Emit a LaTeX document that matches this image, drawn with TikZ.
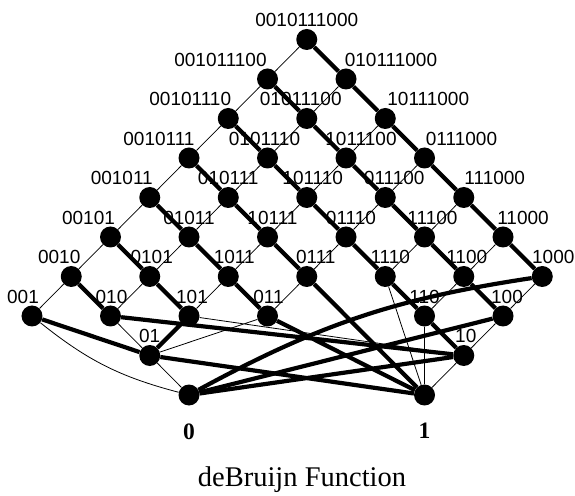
\documentclass[tikz,border=0pt]{standalone}
\usepackage{fontspec}
\setmainfont{Liberation Serif}
\setsansfont{Liberation Sans}

\begin{document}
\begin{tikzpicture}[x=39.25pt,y=39.5pt,
  bit/.style={circle,fill=black,minimum size=21pt,inner sep=0pt},
  lab/.style={font=\sffamily\fontsize{19}{19}\selectfont,inner sep=0pt,label distance=1.5pt},
  bitname/.style={font=\bfseries\fontsize{23.5}{24}\selectfont,inner sep=0pt,label distance=17.5pt},
  title/.style={font=\fontsize{28.5}{30}\selectfont,inner sep=0pt},
  preedge/.style={line width=0.8pt},
  sufedge/.style={line width=4.2pt}]

\useasboundingbox (-32pt,-179pt) rectangle (543pt,316pt);

% The full string
\node[bit,label={[lab]above:0010111000}] (s0010111000) at (7,7) {};

% Length 9
\node[bit,label={[lab,xshift=-47pt]above:001011100}] (s001011100) at (6,6) {};
\node[bit,label={[lab,xshift=45pt]above:010111000}] (s010111000) at (8,6) {};

% Length 8
\node[bit,label={[lab,xshift=-38pt]above:00101110}] (s00101110) at (5,5) {};
\node[bit,label={[lab,xshift=-6pt]above:01011100}] (s01011100) at (7,5) {};
\node[bit,label={[lab,xshift=43pt]above:10111000}] (s10111000) at (9,5) {};

% Length 7
\node[bit,label={[lab,xshift=-30pt]above:0010111}] (s0010111) at (4,4) {};
\node[bit,label={[lab,xshift=-3pt]above:0101110}] (s0101110) at (6,4) {};
\node[bit,label={[lab,xshift=15pt]above:1011100}] (s1011100) at (8,4) {};
\node[bit,label={[lab,xshift=37pt]above:0111000}] (s0111000) at (10,4) {};

% Length 6
\node[bit,label={[lab,xshift=-28pt]above:001011}] (s001011) at (3,3) {};
\node[bit,label={[lab]above:010111}] (s010111) at (5,3) {};
\node[bit,label={[lab,xshift=6pt]above:101110}] (s101110) at (7,3) {};
\node[bit,label={[lab,xshift=9pt]above:011100}] (s011100) at (9,3) {};
\node[bit,label={[lab,xshift=31pt]above:111000}] (s111000) at (11,3) {};

% Length 5
\node[bit,label={[lab,xshift=-22pt]above:00101}] (s00101) at (2,2) {};
\node[bit,label={[lab]above:01011}] (s01011) at (4,2) {};
\node[bit,label={[lab,xshift=5pt]above:10111}] (s10111) at (6,2) {};
\node[bit,label={[lab,xshift=5pt]above:01110}] (s01110) at (8,2) {};
\node[bit,label={[lab,xshift=8pt]above:11100}] (s11100) at (10,2) {};
\node[bit,label={[lab,xshift=20pt]above:11000}] (s11000) at (12,2) {};

% Length 4
\node[bit,label={[lab,xshift=-12pt]above:0010}] (s0010) at (1,1) {};
\node[bit,label={[lab,xshift=2pt]above:0101}] (s0101) at (3,1) {};
\node[bit,label={[lab,xshift=6pt]above:1011}] (s1011) at (5,1) {};
\node[bit,label={[lab,xshift=9pt]above:0111}] (s0111) at (7,1) {};
\node[bit,label={[lab,xshift=5pt]above:1110}] (s1110) at (9,1) {};
\node[bit,label={[lab,xshift=3pt]above:1100}] (s1100) at (11,1) {};
\node[bit,label={[lab,xshift=11pt]above:1000}] (s1000) at (13,1) {};

% Length 3 (111 and 000 fall through to 1 and 0)
\node[bit,label={[lab,xshift=-9pt]above:001}] (s001) at (0,0) {};
\node[bit,label={[lab,xshift=1pt]above:010}] (s010) at (2,0) {};
\node[bit,label={[lab,xshift=3pt]above:101}] (s101) at (4,0) {};
\node[bit,label={[lab,xshift=1pt]above:011}] (s011) at (6,0) {};
\node[bit,label={[lab]above:110}] (s110) at (10,0) {};
\node[bit,label={[lab,xshift=4pt]above:100}] (s100) at (12,0) {};

% Length 2
\node[bit,label={[lab]above:01}] (s01) at (3,-1) {};
\node[bit,label={[lab,xshift=2pt]above:10}] (s10) at (11,-1) {};

% Length 1
\node[bit,label={[bitname]below:0}] (s0) at (4,-2) {};
\node[bit,label={[bitname]below:1}] (s1) at (10,-2) {};

% Thin lines: drop the last bit
\draw[preedge] (s0010111000) -- (s001011100);
\draw[preedge] (s001011100) -- (s00101110) (s010111000) -- (s01011100);
\draw[preedge] (s00101110) -- (s0010111) (s01011100) -- (s0101110) (s10111000) -- (s1011100);
\draw[preedge] (s0010111) -- (s001011) (s0101110) -- (s010111) (s1011100) -- (s101110)
  (s0111000) -- (s011100);
\draw[preedge] (s001011) -- (s00101) (s010111) -- (s01011) (s101110) -- (s10111)
  (s011100) -- (s01110) (s111000) -- (s11100);
\draw[preedge] (s00101) -- (s0010) (s01011) -- (s0101) (s10111) -- (s1011)
  (s01110) -- (s0111) (s11100) -- (s1110) (s11000) -- (s1100);
\draw[preedge] (s0010) -- (s001) (s0101) -- (s010) (s1011) -- (s101) (s0111) -- (s011)
  (s1110) -- (s1) (s1100) -- (s110) (s1000) -- (s100);
\draw[preedge] (s001) to[bend right=12] (s0);
\draw[preedge] (s010) -- (s01) (s101) -- (s10) (s011) -- (s01) (s110) -- (s1) (s100) -- (s10);
\draw[preedge] (s01) -- (s0) (s10) -- (s1);

% Thick lines: drop the first bit
\draw[sufedge] (s0010111000) -- (s010111000);
\draw[sufedge] (s001011100) -- (s01011100) (s010111000) -- (s10111000);
\draw[sufedge] (s00101110) -- (s0101110) (s01011100) -- (s1011100) (s10111000) -- (s0111000);
\draw[sufedge] (s0010111) -- (s010111) (s0101110) -- (s101110) (s1011100) -- (s011100)
  (s0111000) -- (s111000);
\draw[sufedge] (s001011) -- (s01011) (s010111) -- (s10111) (s101110) -- (s01110)
  (s011100) -- (s11100) (s111000) -- (s11000);
\draw[sufedge] (s00101) -- (s0101) (s01011) -- (s1011) (s10111) -- (s0111)
  (s01110) -- (s1110) (s11100) -- (s1100) (s11000) -- (s1000);
\draw[sufedge] (s0010) -- (s010) (s0101) -- (s101) (s1011) -- (s011) (s0111) -- (s1)
  (s1110) -- (s110) (s1100) -- (s100);
\draw[sufedge] (s1000) to[bend right=10] (s0);
\draw[sufedge] (s001) -- (s01) (s010) -- (s10) (s101) -- (s01) (s011) -- (s1)
  (s110) -- (s10) (s100) -- (s0);
\draw[sufedge] (s01) -- (s1) (s10) -- (s0);

\node[title,anchor=base] (caption) at (270pt,-170pt) {deBruijn Function};

\end{tikzpicture}
\end{document}
